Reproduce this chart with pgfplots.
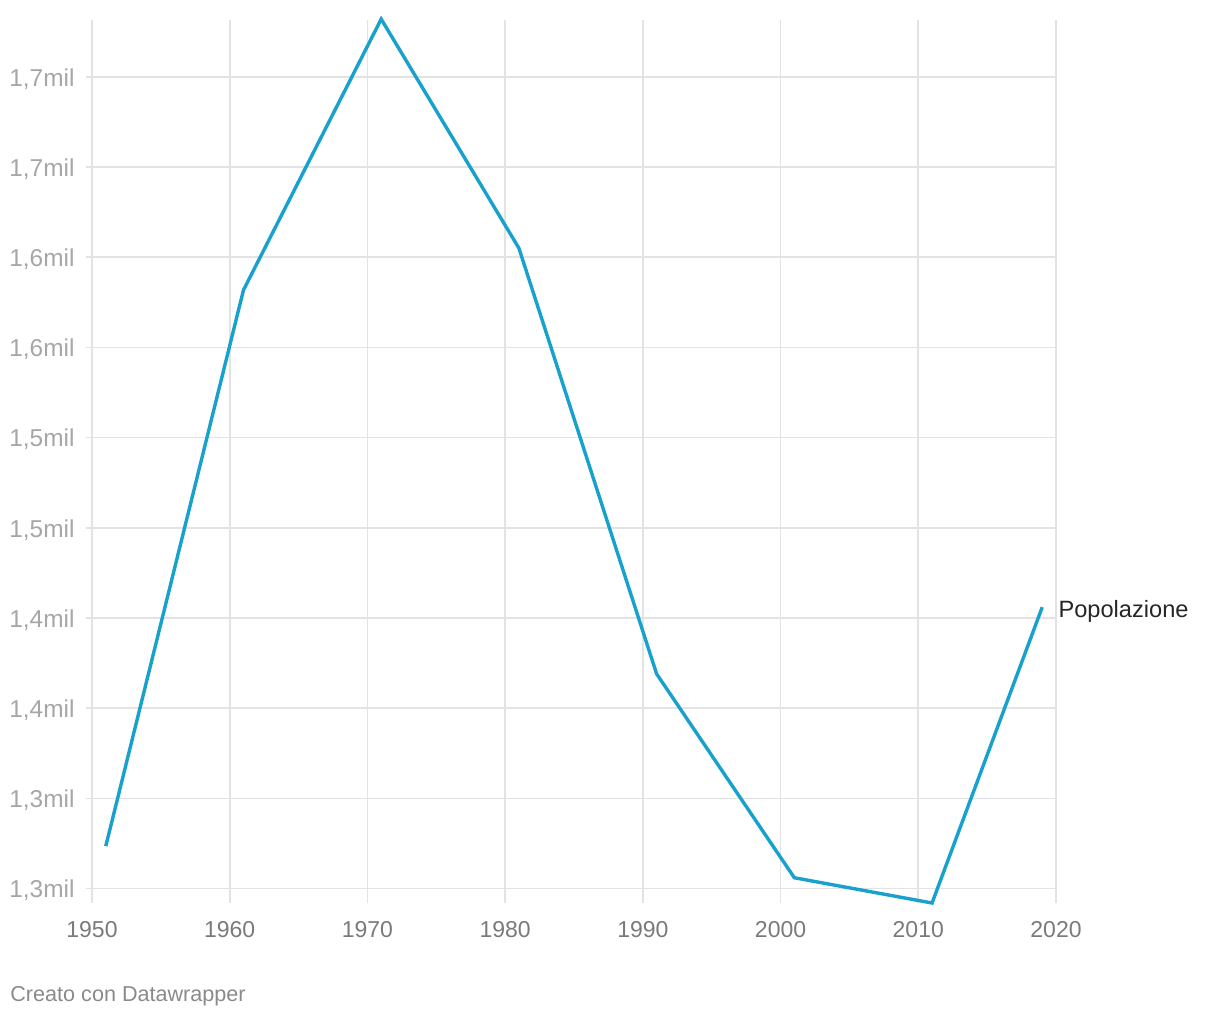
\documentclass[border=0pt]{standalone}
\usepackage{pgfplots}
\pgfplotsset{compat=1.18}
\usepackage{fontspec}
\setmainfont{Liberation Sans}
\definecolor{dwblue}{HTML}{18A1CD}
\definecolor{gridc}{HTML}{E3E3E3}
\definecolor{ylab}{HTML}{A6A6A6}
\definecolor{xlab}{HTML}{7A7A7A}
\definecolor{foot}{HTML}{8A8A8A}
\begin{document}
\begin{tikzpicture}
\path[use as bounding box] (0,0) rectangle (610bp,510bp);
\begin{axis}[
  at={(46bp,58.5bp)}, anchor=south west,
  scale only axis, width=482bp, height=441.5bp,
  xmin=1950, xmax=2020, ymin=1242, ymax=1731.5,
  clip=false,
  axis line style={draw=none},
  xtick={1950,1960,...,2020},
  xticklabels={1950,1960,1970,1980,1990,2000,2010,2020},
  ytick={1250,1300,...,1700},
  yticklabels={{1,3mil},{1,3mil},{1,4mil},{1,4mil},{1,5mil},{1,5mil},{1,6mil},{1,6mil},{1,7mil},{1,7mil}},
  xmajorgrids, ymajorgrids,
  grid style={gridc, line width=0.8bp},
  tick pos=left, tick align=outside,
  xtick style={draw=none},
  ytick style={gridc, line width=0.8bp},
  major tick length=3bp,
  yticklabel style={font=\fontsize{12.2bp}{14bp}\selectfont, text=ylab, anchor=west, inner sep=0pt, xshift=-38.5bp, yshift=-1bp},
  xticklabel style={font=\fontsize{11.5bp}{13bp}\selectfont, text=xlab, inner sep=0pt, yshift=-6bp},
]
\addplot[dwblue, line width=1.7bp, line join=miter] coordinates {
(1951,1273.5) (1961,1581.8) (1971,1732) (1981,1605) (1991,1369) (2001,1256) (2011,1242) (2019,1406)
};
\node[anchor=west, inner sep=0pt, font=\fontsize{11.8bp}{13bp}\selectfont, text=black!85, xshift=8bp, yshift=-2bp] at (axis cs:2019,1406) {Popolazione};
\end{axis}
\node[anchor=west, inner sep=0pt, font=\fontsize{10.8bp}{12bp}\selectfont, text=foot] at (5bp,12bp) {Creato con Datawrapper};
\end{tikzpicture}
\end{document}
